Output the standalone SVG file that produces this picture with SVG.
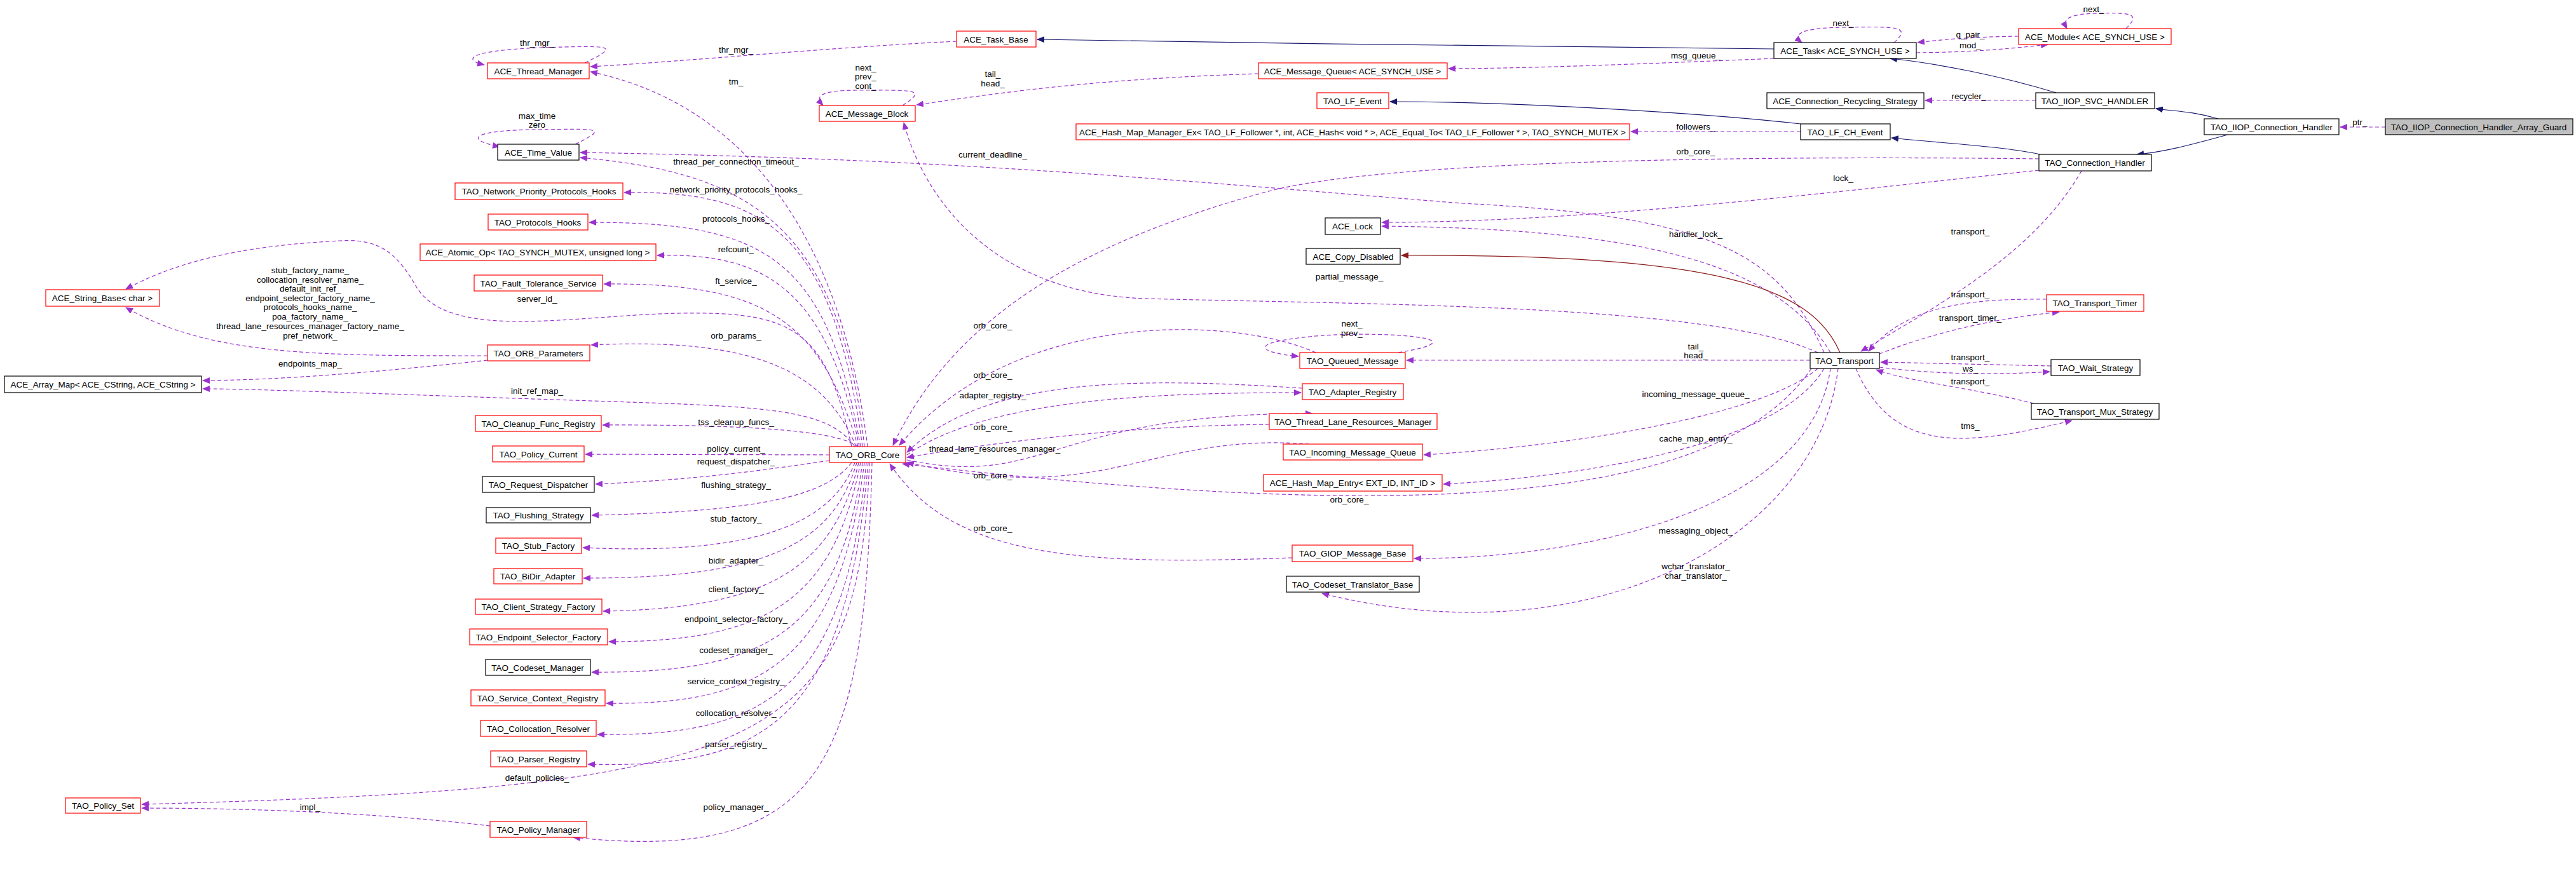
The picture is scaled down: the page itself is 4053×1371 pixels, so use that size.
<svg xmlns="http://www.w3.org/2000/svg" width="4053" height="1371" viewBox="0 0 4053 1371">
<style>
text{font-family:"Liberation Sans",Arial,sans-serif;font-size:13.5px;fill:#000;text-anchor:middle;dominant-baseline:central}
.n rect{fill:#fff;stroke:#000;stroke-width:1.2}
.r rect{stroke:#f00}
.g rect{fill:#bfbfbf}
.u{fill:none;stroke:#9a32cd;stroke-width:1.2;stroke-dasharray:6,4;marker-end:url(#pa)}
.i{fill:none;stroke:#191970;stroke-width:1.2;marker-end:url(#ba)}
.p{fill:none;stroke:#8b1a1a;stroke-width:1.2;marker-end:url(#ra)}
</style>
<defs>
<marker id="pa" markerWidth="12" markerHeight="10" refX="11" refY="5" orient="auto" markerUnits="userSpaceOnUse"><path d="M0,0L12,5L0,10z" fill="#9a32cd"/></marker>
<marker id="ba" markerWidth="12" markerHeight="10" refX="11" refY="5" orient="auto" markerUnits="userSpaceOnUse"><path d="M0,0L12,5L0,10z" fill="#191970"/></marker>
<marker id="ra" markerWidth="12" markerHeight="10" refX="11" refY="5" orient="auto" markerUnits="userSpaceOnUse"><path d="M0,0L12,5L0,10z" fill="#8b1a1a"/></marker>
</defs>
<rect width="4053" height="1371" fill="#fff"/>
<g id="edges">
<path class="u" d="M920,99 C980,70 960,72 850,75 C730,80 730,95 762,102"/>
<path class="u" d="M1505,65 C1300,75 1100,95 929,105"/>
<path class="u" d="M1365,703 C1340,500 1250,180 929,113"/>
<path class="u" d="M1420,166 C1460,140 1440,142 1350,142 C1280,142 1285,155 1295,166"/>
<path class="u" d="M1980,116 C1700,125 1550,150 1442,165"/>
<path class="u" d="M905,227 C960,200 940,203 845,204 C740,205 730,220 786,231"/>
<path class="u" d="M2870,555 C2800,400 2700,340 2300,320 C1800,280 1500,250 913,240"/>
<path class="u" d="M1360,703 C1320,330 1150,270 913,248"/>
<path class="u" d="M1357,703 C1310,360 1200,300 982,303"/>
<path class="u" d="M1354,703 C1300,400 1200,350 927,350"/>
<path class="u" d="M1352,703 C1300,450 1200,398 1034,402"/>
<path class="u" d="M1350,703 C1290,500 1200,445 950,447"/>
<path class="u" d="M1340,703 C1300,520 1250,490 1071,493 C900,496 700,540 652,446 C625,402 600,375 536,379 C420,385 300,400 198,455"/>
<path class="u" d="M767,560 C500,560 330,560 198,484"/>
<path class="u" d="M767,567 C600,585 450,598 319,599"/>
<path class="u" d="M1345,703 C1300,640 1200,640 900,630 C600,620 400,612 319,612"/>
<path class="u" d="M1347,703 C1300,590 1200,530 930,543"/>
<path class="u" d="M1350,703 C1320,680 1200,668 948,669"/>
<path class="u" d="M1305,716 L921,715"/>
<path class="u" d="M1305,725 C1200,740 1100,755 937,762"/>
<path class="u" d="M1340,728 C1300,780 1200,805 931,811"/>
<path class="u" d="M1345,728 C1310,820 1200,875 917,862"/>
<path class="u" d="M1348,728 C1310,860 1200,910 918,910"/>
<path class="u" d="M1351,728 C1310,900 1200,958 949,962"/>
<path class="u" d="M1354,728 C1310,950 1200,1010 958,1010"/>
<path class="u" d="M1357,728 C1320,1000 1200,1060 931,1058"/>
<path class="u" d="M1360,728 C1320,1040 1200,1110 954,1107"/>
<path class="u" d="M1363,728 C1330,1090 1200,1160 940,1156"/>
<path class="u" d="M1366,728 C1330,1140 1200,1210 925,1203"/>
<path class="u" d="M1368,728 C1350,1180 1200,1240 223,1266"/>
<path class="u" d="M771,1300 C600,1280 400,1272 223,1272"/>
<path class="u" d="M1372,728 C1360,1200 1300,1360 902,1318"/>
<path class="i" d="M2791,77 C2500,75 2000,68 1632,62"/>
<path class="u" d="M2791,92 C2600,100 2400,108 2279,108"/>
<path class="u" d="M2980,67 C3010,40 2980,42 2900,43 C2830,44 2820,55 2835,67"/>
<path class="u" d="M3176,57 C3100,58 3050,63 3017,67"/>
<path class="u" d="M3015,83 C3100,82 3150,78 3222,70"/>
<path class="u" d="M3345,45 C3370,20 3350,20 3300,21 C3250,22 3245,32 3252,45"/>
<path class="i" d="M3235,146 C3150,120 3050,100 2974,92"/>
<path class="u" d="M3203,158 L3029,158"/>
<path class="i" d="M3490,187 C3450,175 3420,175 3392,171"/>
<path class="u" d="M3753,200 L3682,200"/>
<path class="i" d="M3505,212 C3440,230 3400,240 3362,243"/>
<path class="i" d="M3210,243 C3150,230 3050,225 2976,217"/>
<path class="i" d="M2833,195 C2700,180 2400,160 2187,160"/>
<path class="u" d="M2833,207 L2566,207"/>
<path class="u" d="M3208,250 C2800,245 2200,250 2000,300 C1700,380 1500,500 1405,701"/>
<path class="u" d="M3208,268 C2900,300 2500,350 2174,350"/>
<path class="u" d="M2880,555 C2800,420 2600,360 2174,356"/>
<path class="p" d="M2895,555 C2850,450 2700,400 2205,402"/>
<path class="u" d="M2860,555 C2700,480 2200,480 1800,470 C1550,460 1450,300 1422,193"/>
<path class="u" d="M3275,269 C3200,400 3050,480 2928,553"/>
<path class="u" d="M3220,471 C3100,470 3000,480 2940,553"/>
<path class="u" d="M2957,557 C3050,520 3150,500 3240,491"/>
<path class="u" d="M3227,576 L2959,570"/>
<path class="u" d="M2957,578 C3050,590 3150,590 3225,585"/>
<path class="u" d="M3200,635 C3100,610 3000,600 2952,582"/>
<path class="u" d="M2920,580 C2980,720 3100,700 3260,662"/>
<path class="u" d="M2848,567 L2213,567"/>
<path class="u" d="M2200,555 C2350,530 2150,520 2060,530 C1960,540 1980,555 2043,561"/>
<path class="u" d="M2070,555 C1950,500 1600,480 1415,701"/>
<path class="u" d="M2049,611 C1800,595 1550,590 1427,712"/>
<path class="u" d="M1427,716 C1550,630 1800,618 2047,618"/>
<path class="u" d="M1997,668 C1800,670 1600,690 1427,720"/>
<path class="u" d="M1427,724 C1650,770 1650,650 2065,651"/>
<path class="u" d="M2060,699 C1800,680 1750,800 1427,728"/>
<path class="u" d="M2860,580 C2780,650 2500,700 2240,716"/>
<path class="u" d="M2870,580 C2800,700 2500,750 2271,762"/>
<path class="u" d="M2850,580 C2700,800 2200,820 1420,730"/>
<path class="u" d="M2033,878 C1700,890 1500,880 1400,730"/>
<path class="u" d="M2880,580 C2850,800 2500,880 2225,879"/>
<path class="u" d="M2892,580 C2860,850 2500,1040 2080,934"/>
</g>
<g id="labels">
<text x="845" y="67">thr_mgr_</text>
<text x="1158" y="78">thr_mgr_</text>
<text x="1158" y="128">tm_</text>
<text x="1362" y="106">next_</text><text x="1362" y="120">prev_</text><text x="1362" y="135">cont_</text>
<text x="1562" y="116">tail_</text><text x="1562" y="131">head_</text>
<text x="845" y="182">max_time</text><text x="845" y="196">zero</text>
<text x="1562" y="243">current_deadline_</text>
<text x="1158" y="254">thread_per_connection_timeout_</text>
<text x="1158" y="298">network_priority_protocols_hooks_</text>
<text x="1158" y="344">protocols_hooks_</text>
<text x="1158" y="392">refcount_</text>
<text x="1158" y="442">ft_service_</text>
<text x="845" y="470">server_id_</text>
<text x="488" y="425">stub_factory_name_</text>
<text x="488" y="440">collocation_resolver_name_</text>
<text x="488" y="454">default_init_ref_</text>
<text x="488" y="469">endpoint_selector_factory_name_</text>
<text x="488" y="483">protocols_hooks_name_</text>
<text x="488" y="498">poa_factory_name_</text>
<text x="488" y="513">thread_lane_resources_manager_factory_name_</text>
<text x="488" y="528">pref_network_</text>
<text x="488" y="572">endpoints_map_</text>
<text x="845" y="615">init_ref_map_</text>
<text x="1158" y="528">orb_params_</text>
<text x="1158" y="664">tss_cleanup_funcs_</text>
<text x="1158" y="706">policy_current_</text>
<text x="1158" y="726">request_dispatcher_</text>
<text x="1158" y="763">flushing_strategy_</text>
<text x="1158" y="816">stub_factory_</text>
<text x="1158" y="882">bidir_adapter_</text>
<text x="1158" y="927">client_factory_</text>
<text x="1158" y="974">endpoint_selector_factory_</text>
<text x="1158" y="1023">codeset_manager_</text>
<text x="1158" y="1072">service_context_registry_</text>
<text x="1158" y="1122">collocation_resolver_</text>
<text x="1158" y="1171">parser_registry_</text>
<text x="845" y="1224">default_policies_</text>
<text x="488" y="1270">impl_</text>
<text x="1158" y="1270">policy_manager_</text>
<text x="2668" y="87">msg_queue_</text>
<text x="2900" y="36">next_</text>
<text x="3100" y="54">q_pair_</text>
<text x="3100" y="71">mod_</text>
<text x="3294" y="14">next_</text>
<text x="3098" y="151">recycler_</text>
<text x="3713" y="192">ptr_</text>
<text x="2668" y="199">followers_</text>
<text x="2668" y="238">orb_core_</text>
<text x="2900" y="280">lock_</text>
<text x="2668" y="368">handler_lock_</text>
<text x="2123" y="435">partial_message_</text>
<text x="3100" y="364">transport_</text>
<text x="3100" y="463">transport_</text>
<text x="3100" y="500">transport_timer_</text>
<text x="3100" y="562">transport_</text>
<text x="3100" y="580">ws_</text>
<text x="3100" y="600">transport_</text>
<text x="3100" y="670">tms_</text>
<text x="2668" y="545">tail_</text><text x="2668" y="559">head_</text>
<text x="2127" y="509">next_</text><text x="2127" y="524">prev_</text>
<text x="1562" y="512">orb_core_</text>
<text x="1562" y="590">orb_core_</text>
<text x="1562" y="622">adapter_registry_</text>
<text x="1562" y="672">orb_core_</text>
<text x="1565" y="706">thread_lane_resources_manager_</text>
<text x="1562" y="748">orb_core_</text>
<text x="2668" y="620">incoming_message_queue_</text>
<text x="2668" y="690">cache_map_entry_</text>
<text x="2123" y="786">orb_core_</text>
<text x="1562" y="831">orb_core_</text>
<text x="2668" y="835">messaging_object_</text>
<text x="2668" y="891">wchar_translator_</text><text x="2668" y="906">char_translator_</text>
</g>
<g id="ACE_Thread_Manager" class="n r"><rect x="767" y="99" width="160" height="25"/><text x="847" y="112">ACE_Thread_Manager</text></g>
<g id="ACE_Time_Value" class="n"><rect x="783" y="227" width="128" height="25"/><text x="847" y="240">ACE_Time_Value</text></g>
<g id="TAO_Network_Priority_Protocols_Hooks" class="n r"><rect x="716" y="288" width="264" height="26"/><text x="848" y="301">TAO_Network_Priority_Protocols_Hooks</text></g>
<g id="TAO_Protocols_Hooks" class="n r"><rect x="768" y="337" width="157" height="25"/><text x="846" y="350">TAO_Protocols_Hooks</text></g>
<g id="ACE_Atomic_Op" class="n r"><rect x="661" y="384" width="371" height="26"/><text x="846" y="397">ACE_Atomic_Op&lt; TAO_SYNCH_MUTEX, unsigned long &gt;</text></g>
<g id="TAO_Fault_Tolerance_Service" class="n r"><rect x="746" y="433" width="202" height="25"/><text x="847" y="446">TAO_Fault_Tolerance_Service</text></g>
<g id="ACE_String_Base" class="n r"><rect x="72" y="456" width="179" height="26"/><text x="161" y="469">ACE_String_Base&lt; char &gt;</text></g>
<g id="TAO_ORB_Parameters" class="n r"><rect x="767" y="543" width="161" height="25"/><text x="847" y="556">TAO_ORB_Parameters</text></g>
<g id="ACE_Array_Map" class="n"><rect x="7" y="592" width="310" height="26"/><text x="162" y="605">ACE_Array_Map&lt; ACE_CString, ACE_CString &gt;</text></g>
<g id="TAO_Cleanup_Func_Registry" class="n r"><rect x="748" y="654" width="198" height="25"/><text x="847" y="667">TAO_Cleanup_Func_Registry</text></g>
<g id="TAO_Policy_Current" class="n r"><rect x="775" y="702" width="144" height="25"/><text x="847" y="715">TAO_Policy_Current</text></g>
<g id="TAO_Request_Dispatcher" class="n"><rect x="759" y="750" width="176" height="25"/><text x="847" y="763">TAO_Request_Dispatcher</text></g>
<g id="TAO_Flushing_Strategy" class="n"><rect x="765" y="799" width="164" height="24"/><text x="847" y="811">TAO_Flushing_Strategy</text></g>
<g id="TAO_Stub_Factory" class="n r"><rect x="780" y="847" width="135" height="24"/><text x="847" y="859">TAO_Stub_Factory</text></g>
<g id="TAO_BiDir_Adapter" class="n r"><rect x="777" y="895" width="139" height="24"/><text x="846" y="907">TAO_BiDir_Adapter</text></g>
<g id="TAO_Client_Strategy_Factory" class="n r"><rect x="748" y="943" width="199" height="24"/><text x="847" y="955">TAO_Client_Strategy_Factory</text></g>
<g id="TAO_Endpoint_Selector_Factory" class="n r"><rect x="739" y="990" width="217" height="25"/><text x="847" y="1003">TAO_Endpoint_Selector_Factory</text></g>
<g id="TAO_Codeset_Manager" class="n"><rect x="764" y="1038" width="165" height="25"/><text x="846" y="1051">TAO_Codeset_Manager</text></g>
<g id="TAO_Service_Context_Registry" class="n r"><rect x="741" y="1086" width="211" height="25"/><text x="846" y="1099">TAO_Service_Context_Registry</text></g>
<g id="TAO_Collocation_Resolver" class="n r"><rect x="756" y="1134" width="182" height="25"/><text x="847" y="1147">TAO_Collocation_Resolver</text></g>
<g id="TAO_Parser_Registry" class="n r"><rect x="772" y="1182" width="151" height="25"/><text x="847" y="1195">TAO_Parser_Registry</text></g>
<g id="TAO_Policy_Set" class="n r"><rect x="103" y="1256" width="118" height="24"/><text x="162" y="1268">TAO_Policy_Set</text></g>
<g id="TAO_Policy_Manager" class="n r"><rect x="771" y="1293" width="152" height="25"/><text x="847" y="1306">TAO_Policy_Manager</text></g>
<g id="TAO_ORB_Core" class="n r"><rect x="1305" y="703" width="120" height="25"/><text x="1365" y="716">TAO_ORB_Core</text></g>
<g id="ACE_Message_Block" class="n r"><rect x="1289" y="166" width="151" height="25"/><text x="1364" y="179">ACE_Message_Block</text></g>
<g id="ACE_Task_Base" class="n r"><rect x="1505" y="49" width="125" height="25"/><text x="1567" y="62">ACE_Task_Base</text></g>
<g id="ACE_Message_Queue" class="n r"><rect x="1980" y="99" width="297" height="25"/><text x="2128" y="112">ACE_Message_Queue&lt; ACE_SYNCH_USE &gt;</text></g>
<g id="TAO_LF_Event" class="n r"><rect x="2072" y="146" width="113" height="25"/><text x="2128" y="159">TAO_LF_Event</text></g>
<g id="ACE_Hash_Map_Manager_Ex" class="n r"><rect x="1693" y="195" width="871" height="25"/><text x="2128" y="208">ACE_Hash_Map_Manager_Ex&lt; TAO_LF_Follower *, int, ACE_Hash&lt; void * &gt;, ACE_Equal_To&lt; TAO_LF_Follower * &gt;, TAO_SYNCH_MUTEX &gt;</text></g>
<g id="ACE_Lock" class="n"><rect x="2085" y="343" width="87" height="26"/><text x="2128" y="356">ACE_Lock</text></g>
<g id="ACE_Copy_Disabled" class="n"><rect x="2055" y="391" width="148" height="25"/><text x="2129" y="404">ACE_Copy_Disabled</text></g>
<g id="TAO_Queued_Message" class="n r"><rect x="2045" y="555" width="166" height="25"/><text x="2128" y="568">TAO_Queued_Message</text></g>
<g id="TAO_Adapter_Registry" class="n r"><rect x="2049" y="604" width="159" height="25"/><text x="2128" y="617">TAO_Adapter_Registry</text></g>
<g id="TAO_Thread_Lane_Resources_Manager" class="n r"><rect x="1997" y="651" width="264" height="25"/><text x="2129" y="664">TAO_Thread_Lane_Resources_Manager</text></g>
<g id="TAO_Incoming_Message_Queue" class="n r"><rect x="2019" y="699" width="219" height="25"/><text x="2128" y="712">TAO_Incoming_Message_Queue</text></g>
<g id="ACE_Hash_Map_Entry" class="n r"><rect x="1988" y="747" width="281" height="26"/><text x="2128" y="760">ACE_Hash_Map_Entry&lt; EXT_ID, INT_ID &gt;</text></g>
<g id="TAO_GIOP_Message_Base" class="n r"><rect x="2033" y="858" width="190" height="26"/><text x="2128" y="871">TAO_GIOP_Message_Base</text></g>
<g id="TAO_Codeset_Translator_Base" class="n"><rect x="2024" y="907" width="209" height="25"/><text x="2128" y="920">TAO_Codeset_Translator_Base</text></g>
<g id="ACE_Task" class="n"><rect x="2791" y="67" width="224" height="25"/><text x="2903" y="80">ACE_Task&lt; ACE_SYNCH_USE &gt;</text></g>
<g id="ACE_Module" class="n r"><rect x="3176" y="45" width="240" height="25"/><text x="3296" y="58">ACE_Module&lt; ACE_SYNCH_USE &gt;</text></g>
<g id="ACE_Connection_Recycling_Strategy" class="n"><rect x="2780" y="146" width="247" height="25"/><text x="2903" y="159">ACE_Connection_Recycling_Strategy</text></g>
<g id="TAO_IIOP_SVC_HANDLER" class="n"><rect x="3203" y="146" width="187" height="25"/><text x="3296" y="159">TAO_IIOP_SVC_HANDLER</text></g>
<g id="TAO_IIOP_Connection_Handler" class="n"><rect x="3468" y="187" width="212" height="25"/><text x="3574" y="200">TAO_IIOP_Connection_Handler</text></g>
<g id="TAO_IIOP_Connection_Handler_Array_Guard" class="n g"><rect x="3753" y="187" width="295" height="25"/><text x="3900" y="200">TAO_IIOP_Connection_Handler_Array_Guard</text></g>
<g id="TAO_LF_CH_Event" class="n"><rect x="2833" y="195" width="141" height="25"/><text x="2903" y="208">TAO_LF_CH_Event</text></g>
<g id="TAO_Connection_Handler" class="n"><rect x="3208" y="243" width="177" height="26"/><text x="3296" y="256">TAO_Connection_Handler</text></g>
<g id="TAO_Transport" class="n"><rect x="2848" y="555" width="109" height="25"/><text x="2902" y="568">TAO_Transport</text></g>
<g id="TAO_Transport_Timer" class="n r"><rect x="3220" y="464" width="153" height="26"/><text x="3296" y="477">TAO_Transport_Timer</text></g>
<g id="TAO_Wait_Strategy" class="n"><rect x="3227" y="566" width="140" height="25"/><text x="3297" y="579">TAO_Wait_Strategy</text></g>
<g id="TAO_Transport_Mux_Strategy" class="n"><rect x="3196" y="635" width="201" height="25"/><text x="3296" y="648">TAO_Transport_Mux_Strategy</text></g>
</svg>
